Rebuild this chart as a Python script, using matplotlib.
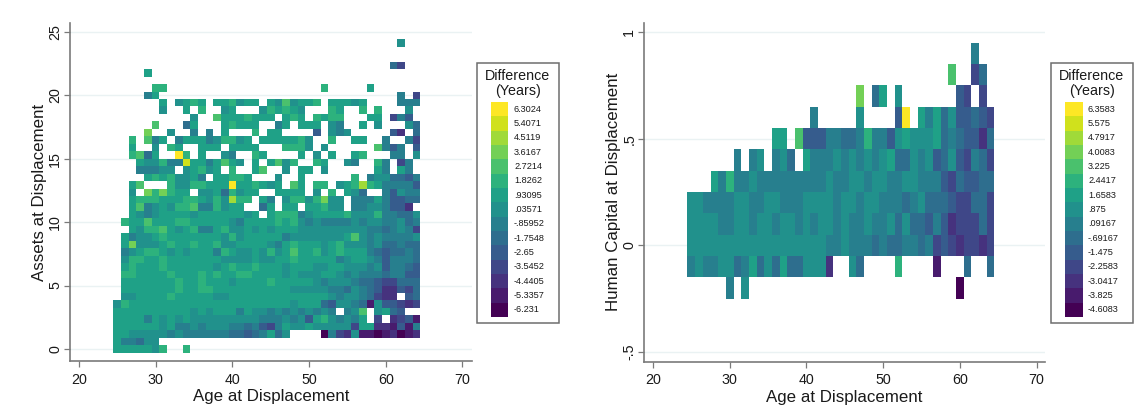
import numpy as np
import matplotlib
matplotlib.use("Agg")
import matplotlib.pyplot as plt
from matplotlib.colors import ListedColormap, BoundaryNorm
from matplotlib.patches import Rectangle

plt.rcParams['font.family'] = ['Liberation Sans', 'DejaVu Sans']

ages = list(range(25, 65))

# Legend levels, top to bottom, as printed
left_legend = ["6.3024", "5.4071", "4.5119", "3.6167", "2.7214", "1.8262", ".93095", ".03571",
               "-.85952", "-1.7548", "-2.65", "-3.5452", "-4.4405", "-5.3357", "-6.231"]
right_legend = ["6.3583", "5.575", "4.7917", "4.0083", "3.225", "2.4417", "1.6583", ".875",
                ".09167", "-.69167", "-1.475", "-2.2583", "-3.0417", "-3.825", "-4.6083"]

# Each row: ages 25..64 in groups of five. Character = legend level read off the
# picture (0 darkest .. e yellow), '.' = no cell. Rows run from top of the plot down.
left_rows = [
 "..... ..... ..... ..... ..... ..... ..... ..7..",  # 41
 "..... ..... ..... ..... ..... ..... ..... .....",
 "..... ..... ..... ..... ..... ..... ..... .....",
 "..... ..... ..... ..... ..... ..... ..... .53..",  # 38
 "....8 ..... ..... ..... ..... ..... ..... .....",
 "..... ..... ..... ..... ..... ..... ..... .....",
 "..... 99... ..... ..... ..... ..9.. ...8. .....",  # 35
 "....6 8.... ..... ..... ..... ..... ..... ..6.3",
 "..... .8.78 98.88 9788. 87a78 89.88 878.. ..666",
 "..... .7..8 .9..7 8...7 98987 ...98 ..9.9 ...7.",
 "..... ..... 7..a8 88988 8.898 .9899 ...88 .364.",
 "..... a...5 8...8 9888. .68.8 88.76 ..8.7 ...75",  # 30
 "....b ..7.. 6.6.8 ...9. 88... .4.76 7.... .42.5",
 "..9.a 68.68 88679 978.8 88889 7..9. .88.. 6..63",
 "..8.. 7.98. .888. 8888. ..999 7.7.. ....a 646.4",
 "..9a5 8..e9 .8..7 6..98 ....8 .7.8. .89.. .66.7",
 "...87 7966d 8868a 87.8. 8a79. .98.. 76..9 6.36.",  # 25
 "...66 677.7 8978. 9..8a ..7.8 8.7.. ....8 6.86.",
 "....8 98977 86.88 998.. .7..8 ..... .9.67 75546",
 "..8a. ..977 99888 e8898 78.a8 .99.7 89c98 66664",
 "..7.b 9b988 .7785 9788. .8888 .7.9. 875.. 64766",
 "..899 98889 98797 c99.8 6.799 79b77 .6668 64455",  # 20
 "..8a6 78799 a6697 88..5 8.88. 88977 .6677 6442.",
 "..876 78888 78888 8878. 89996 78888 97779 66557",
 ".988a 88899 88888 76888 89897 67666 67677 66756",
 "..879 9a878 96689 77878 78887 77777 77766 56763",
 ".8677 89888 88887 97888 88677 77777 8a767 66667",  # 15
 ".8b77 78988 98897 78888 76898 88789 77767 55655",
 ".6789 98787 88869 87787 978a8 89789 88865 45565",
 ".7998 89888 88887 77787 78898 88886 78876 46665",
 ".8988 89888 88878 98898 88788 87788 77767 46654",
 ".9988 88988 89898 89988 88787 77887 67666 56644",  # 10
 ".8888 88898 89888 78888 98888 87677 76554 33555",
 ".8888 88898 89988 88888 88877 77766 57654 22435",
 ".7788 88988 88877 88888 88888 88876 77653 22.45",
 "79888 88888 88888 88888 88878 88547 76517 44323",
 "88888 88888 78788 86877 67676 7676. 67a.7 854..",  # 5
 "88886 87878 77777 77776 66767 48976 768.3 .2341",
 "88888 87866 76777 66564 36877 87777 73882 21416",
 "88777 77676 66666 55456 857.. ..063 27110 12012",
 "86657 7.... ..... ..... ..... ..... ..... .....",
 "88888 79..9 ..... ..... ..... ..... ..... .....",  # 0
]

# Human-capital bins, top row (.9) to bottom row (-.2)
right_rows = [
 "..... ..... ..... ..... ..... ..... ..... ..6..",
 "..... ..... ..... ..... ..... ..... ....a ..35.",
 "..... ..... ..... ..... ..b.5 8.7.. ..... 43.3.",
 "..... ..... ..... .6... ..7.. ..4e. 86857 44543",
 "..... ..... .88.a 44466 55696 64787 77856 54425",
 "..... .6.67 .675. 86667 67676 78557 67457 43653",
 "...86 96676 66666 66676 67767 76677 66643 54455",
 "77666 67766 77666 77776 77677 66656 75554 33553",
 "77776 67767 76776 76776 76676 67575 54642 33353",
 "77777 77777 77777 77766 76665 65566 56343 23323",
 "67667 75685 75855 7772. .75.. ..9.. ..1.. .5..5",
 "..... 6.7.. ..... ..... ..... ..... ..... 0....",
]

left_bin = 10 / 17      # asset bin height
right_bin = 0.1         # human-capital bin height
right_top = 0.9

left_xticks = [20, 30, 40, 50, 60, 70]
left_yticks = [0, 5, 10, 15, 20, 25]
left_yticklabels = ["0", "5", "10", "15", "20", "25"]
right_xticks = [20, 30, 40, 50, 60, 70]
right_yticks = [-0.5, 0, 0.5, 1]
right_yticklabels = ["-.5", "0", ".5", "1"]

W, H = 1140, 417
fig = plt.figure(figsize=(W / 100, H / 100), dpi=100, facecolor="white")
SPINE = "#7a7a7a"
GRID = "#eaf2f3"
TXT = "#1a1a1a"
cmap = plt.get_cmap("viridis", 15)
colors = [cmap(i) for i in range(15)]


def parse(rows, legend):
    vals = [float(s) for s in legend][::-1]   # level 0 = bottom of legend
    z = np.full((len(rows), 40), np.nan)
    for r, row in enumerate(rows):
        chars = row.replace(" ", "")
        assert len(chars) == 40, row
        for c, ch in enumerate(chars):
            if ch != ".":
                z[r, c] = vals[int(ch, 16)]
    return z, vals


def panel(box, xlim, ylim, rows, legend, ycenters, binh, xticks, yticks, yticklabels, ylabel):
    l, t, r, b = box
    ax = fig.add_axes([l / W, 1 - b / H, (r - l) / W, (b - t) / H])
    z, vals = parse(rows, legend)
    edges = [vals[0] - 1] + [(p + q) / 2 for p, q in zip(vals[:-1], vals[1:])] + [vals[-1] + 1]
    norm = BoundaryNorm(edges, 15)
    xe = np.r_[np.array(ages) - 0.5, ages[-1] + 0.5]
    yc = np.array(ycenters)
    ye = np.r_[yc + binh / 2, yc[-1] - binh / 2]
    ax.pcolormesh(xe, ye, np.ma.masked_invalid(z), cmap=ListedColormap(colors), norm=norm,
                  edgecolors="none", linewidth=0, antialiased=False, zorder=2)
    ax.set_xlim(*xlim)
    ax.set_ylim(*ylim)
    ax.set_xticks(xticks)
    ax.set_yticks(yticks)
    ax.set_yticklabels(yticklabels, rotation=90, va="center")
    ax.grid(axis="y", color=GRID, lw=1.0, zorder=0)
    ax.set_axisbelow(True)
    for s in ("top", "right"):
        ax.spines[s].set_visible(False)
    for s in ("left", "bottom"):
        ax.spines[s].set_color(SPINE)
        ax.spines[s].set_linewidth(1.2)
    ax.tick_params(axis="x", length=4.5, width=0.9, color=SPINE, labelsize=10.3,
                   labelcolor=TXT, pad=4)
    ax.tick_params(axis="y", length=4.5, width=0.9, color=SPINE, labelsize=10.3,
                   labelcolor=TXT, pad=1)
    ax.set_xlabel("Age at Displacement", fontsize=12.2, color=TXT, labelpad=1.9)
    ax.set_ylabel(ylabel, fontsize=12.2, color=TXT, labelpad=0.8)
    return ax


left_ycenters = [left_bin * (len(left_rows) - 1 - i) for i in range(len(left_rows))]
right_ycenters = [right_top - right_bin * i for i in range(len(right_rows))]

panel((70, 23, 472, 361), (18.83, 71.25), (-0.95, 25.7), left_rows, left_legend,
      left_ycenters, left_bin, left_xticks, left_yticks, left_yticklabels, "Assets at Displacement")
panel((644, 23, 1045, 361.5), (18.83, 71.1), (-0.544, 1.042), right_rows, right_legend,
      right_ycenters, right_bin, right_xticks, right_yticks, right_yticklabels,
      "Human Capital at Displacement")

# Overlay in pixel coordinates for the two legends
ov = fig.add_axes([0, 0, 1, 1], facecolor="none")
ov.set_xlim(0, W)
ov.set_ylim(H, 0)
ov.axis("off")


def legend_box(x0, x1, y0, y1, sw0, sw1, labx, titlex, labels):
    ov.add_patch(Rectangle((x0, y0), x1 - x0, y1 - y0, fc="white", ec="#6e6e6e", lw=1.1))
    ov.text(titlex, 76, "Difference", ha="center", va="center", fontsize=10.3, color=TXT)
    ov.text(titlex, 90.5, "(Years)", ha="center", va="center", fontsize=10.3, color=TXT)
    top, step = 102.0, (317 - 102) / 15
    for i, lab in enumerate(labels):
        ov.add_patch(Rectangle((sw0, top + i * step), sw1 - sw0, step, fc=colors[14 - i], ec="none"))
        ov.text(labx, top + (i + 0.5) * step, lab, ha="left", va="center", fontsize=6.6, color=TXT)


legend_box(477, 559, 63, 323, 491, 508, 514, 518, left_legend)
legend_box(1051, 1133, 63, 323, 1065, 1083, 1088, 1092, right_legend)

fig.savefig("out.png", dpi=100, facecolor="white")
